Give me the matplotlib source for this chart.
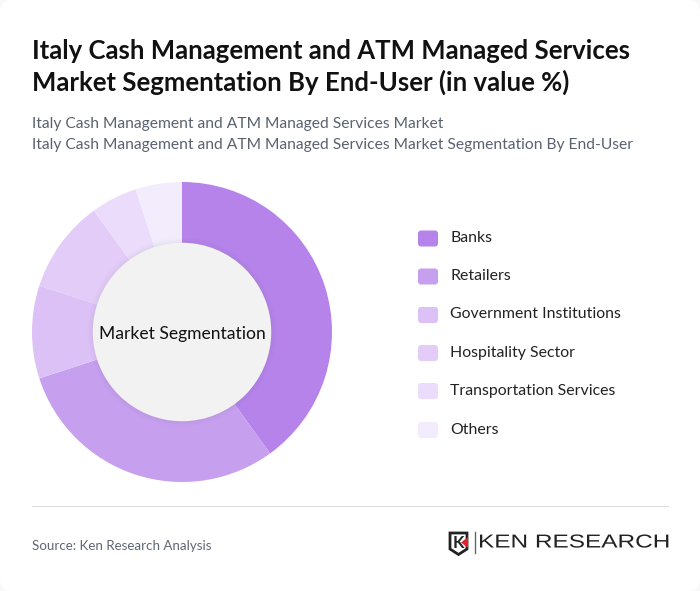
import matplotlib
matplotlib.use('Agg')
import matplotlib.pyplot as plt
from matplotlib.patches import Circle, FancyBboxPatch, Polygon
from matplotlib.patheffects import AbstractPathEffect
from matplotlib.transforms import Affine2D

TITLE = 'Italy Cash Management and ATM Managed Services\nMarket Segmentation By End-User (in value %)'
SUBTITLE = ('Italy Cash Management and ATM Managed Services Market\n'
            'Italy Cash Management and ATM Managed Services Market Segmentation By End-User')
SOURCE = 'Source: Ken Research Analysis'
CENTER_LABEL = 'Market Segmentation'
segments = ['Banks', 'Retailers', 'Government Institutions', 'Hospitality Sector',
            'Transportation Services', 'Others']
values = [40, 30, 10, 10, 5, 5]
colors = ['#b583ea', '#c69fef', '#dcc1f7', '#e3ccf8', '#ebdcfb', '#f3ecfc']
legend_y = [237, 275, 313.5, 351.5, 389.5, 428.5]

plt.rcParams['font.family'] = ['Lato', 'Open Sans', 'DejaVu Sans']


class StretchX(AbstractPathEffect):
    """Widens text around a fixed x, the logo lettering is very wide."""
    def __init__(self, x0, sx):
        super().__init__()
        self.x0 = x0
        self.sx = sx

    def draw_path(self, renderer, gc, tpath, affine, rgbFace=None):
        stretch = Affine2D().translate(-self.x0, 0).scale(self.sx, 1).translate(self.x0, 0)
        renderer.draw_path(gc, tpath, affine + stretch, rgbFace)


fig = plt.figure(figsize=(7, 5.91), dpi=100, facecolor='#f8f8f9')

# page in pixel coordinates, y pointing down
page = fig.add_axes([0, 0, 1, 1])
page.set_xlim(0, 700)
page.set_ylim(591, 0)
page.axis('off')
page.add_patch(FancyBboxPatch((0, 0), 700, 591, boxstyle='round,pad=0,rounding_size=12',
                              fc='white', ec='none'))

page.text(32, 51, TITLE.split('\n')[0], fontsize=18.55, fontweight='bold', color='#111111', va='center')
page.text(32, 82, TITLE.split('\n')[1], fontsize=18.55, fontweight='bold', color='#111111', va='center')
page.text(32, 124, SUBTITLE.split('\n')[0], fontsize=11.25, color='#5a6270', va='center')
page.text(32, 145, SUBTITLE.split('\n')[1], fontsize=11.25, color='#5a6270', va='center')

for name, col, y in zip(segments, colors, legend_y):
    page.add_patch(FancyBboxPatch((418, y - 6.5), 20, 16, boxstyle='round,pad=0,rounding_size=3',
                                  fc=col, ec='none'))
    page.text(450, y + 1, name, fontsize=11.45, color='#222222', va='center')

page.plot([32, 668], [506, 506], color='#dcdce2', lw=0.8)
page.text(32, 545.5, SOURCE, fontsize=9.65, color='#5f6774', va='center')

# logo
page.add_patch(Polygon([(450, 533), (467, 533), (467, 549), (458.5, 554.5), (450, 549)],
                       closed=True, fc='white', ec='#222222', lw=2))
page.text(458, 543.5, 'K', fontsize=12, fontweight='bold', color='#222222', ha='center', va='center')
page.add_patch(Polygon([(468, 537), (468, 548), (461, 542.5)], closed=True, fc='#d9262c', ec='none'))
page.plot([474.5, 474.5], [532, 553], color='#666666', lw=1)
page.text(478, 543, 'KEN RESEARCH', fontsize=13.5, color='#222222', va='center', family='Liberation Sans',
          path_effects=[StretchX(478, 1.3)])

# donut
donut = fig.add_axes([32 / 700, 1 - 482 / 591, 300 / 700, 300 / 591])
donut.pie(values, colors=colors, startangle=90, counterclock=False, radius=1,
          wedgeprops=dict(width=0.41, linewidth=0))
donut.set_xlim(-1, 1)
donut.set_ylim(-1, 1)
# soft shadow around the hole
for r, a in [(0.63, 0.012), (0.62, 0.015), (0.61, 0.02), (0.60, 0.025)]:
    donut.add_patch(Circle((0, 0), r, fc='#555555', ec='none', alpha=a))
donut.add_patch(Circle((0, 0), 0.595, fc='#f2f2f2', ec='none'))
donut.text(0, -0.012, CENTER_LABEL, fontsize=12.6, color='#111111', ha='center', va='center')

fig.savefig('out.png', dpi=100, facecolor=fig.get_facecolor())
